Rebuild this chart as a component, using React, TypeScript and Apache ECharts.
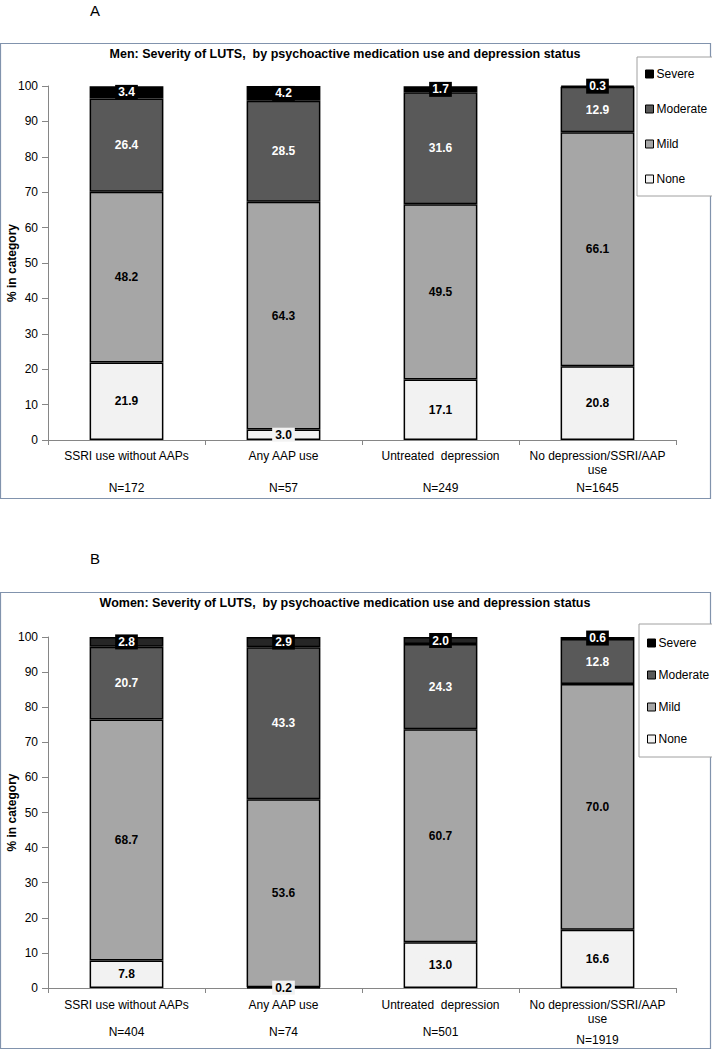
import React, { useEffect, useRef } from "react";
import * as echarts from "echarts";

const categories = ["SSRI use without AAPs", "Any AAP use", "Untreated  depression", "No depression/SSRI/AAP\nuse"];
const menN = ["N=172", "N=57", "N=249", "N=1645"];
const womenN = ["N=404", "N=74", "N=501", "N=1919"];

const menNone = [21.9, 3.0, 17.1, 20.8];
const menMild = [48.2, 64.3, 49.5, 66.1];
const menModerate = [26.4, 28.5, 31.6, 12.9];
const menSevere = [3.4, 4.2, 1.7, 0.3];

const womenNone = [7.8, 0.2, 13.0, 16.6];
const womenMild = [68.7, 53.6, 60.7, 70.0];
const womenModerate = [20.7, 43.3, 24.3, 12.8];
const womenSevere = [2.8, 2.9, 2.0, 0.6];

const yTicks = [0, 10, 20, 30, 40, 50, 60, 70, 80, 90, 100];
const legendNames = ["Severe", "Moderate", "Mild", "None"];

const FONT = "'Liberation Sans', Arial, sans-serif";

export default function App() {
  const ref = useRef<HTMLDivElement>(null);
  useEffect(() => {
    document.body.style.margin = "0";
    if (!ref.current) return;
    const chart = echarts.init(ref.current, undefined, { renderer: "svg" });

    const fmt = (p: any) => Number(p.value).toFixed(1);
    const mkSeries = (name: string, data: number[], idx: number, color: string, label: any, stack: string) => ({
      name,
      type: "bar",
      stack,
      xAxisIndex: idx * 2,
      yAxisIndex: idx,
      data,
      barWidth: "47%",
      itemStyle: { color, borderColor: "#000", borderWidth: 1.5 },
      label: { show: true, position: "inside", formatter: fmt, fontFamily: FONT, fontWeight: "bold", fontSize: 12, ...label },
      emphasis: { disabled: true },
    });

    const noneLabel = { color: "#000", backgroundColor: "#f2f2f2", padding: [1, 3] };
    const mildLabel = { color: "#000" };
    const modLabel = { color: "#fff" };
    const sevLabel = { color: "#fff", backgroundColor: "#000", padding: [2, 3, 1, 3] };

    const grids = [
      { left: 48, top: 86, width: 628, height: 354, outerBoundsMode: "none", containLabel: false },
      { left: 48, top: 637, width: 628, height: 351, outerBoundsMode: "none", containLabel: false },
    ];

    const xAxes: any[] = [];
    const nLabels = [menN, womenN];
    const nOffsets = [33, 29];
    const catMargins = [9, 10];
    [0, 1].forEach((g) => {
      xAxes.push({
        type: "category",
        gridIndex: g,
        data: categories,
        axisLine: { lineStyle: { color: "#868686", width: 1 } },
        axisTick: { show: true, length: 5, lineStyle: { color: "#868686" } },
        axisLabel: { color: "#000", fontSize: 12, fontFamily: FONT, margin: catMargins[g], lineHeight: 14, interval: 0 },
      });
      xAxes.push({
        type: "category",
        gridIndex: g,
        position: "bottom",
        offset: nOffsets[g],
        data: nLabels[g].map((t, i) =>
          g === 1 && i === nLabels[g].length - 1 ? { value: t, textStyle: { padding: [8, 0, 0, 0] } } : t
        ),
        axisLine: { show: false },
        axisTick: { show: false },
        axisLabel: { color: "#000", fontSize: 12, fontFamily: FONT, margin: 9, interval: 0 },
      });
    });

    const yAxes = [0, 1].map((g) => ({
      type: "value",
      gridIndex: g,
      min: yTicks[0],
      max: yTicks[yTicks.length - 1],
      interval: yTicks[1] - yTicks[0],
      name: "% in category",
      nameLocation: "middle",
      nameGap: 30,
      nameMoveOverlap: false,
      nameTextStyle: { color: "#000", fontWeight: "bold", fontSize: 12, fontFamily: FONT },
      axisLine: { show: true, lineStyle: { color: "#868686", width: 1 } },
      axisTick: { show: true, length: 6, lineStyle: { color: "#868686" } },
      axisLabel: { color: "#000", fontSize: 12, fontFamily: FONT, margin: 10 },
      splitLine: { show: false },
    }));

    const series = [
      mkSeries("None", menNone, 0, "#f2f2f2", noneLabel, "a"),
      mkSeries("Mild", menMild, 0, "#a6a6a6", mildLabel, "a"),
      mkSeries("Moderate", menModerate, 0, "#595959", modLabel, "a"),
      mkSeries("Severe", menSevere, 0, "#000000", sevLabel, "a"),
      mkSeries("None", womenNone, 1, "#f2f2f2", noneLabel, "b"),
      mkSeries("Mild", womenMild, 1, "#a6a6a6", mildLabel, "b"),
      mkSeries("Moderate", womenModerate, 1, "#595959", modLabel, "b"),
      mkSeries("Severe", womenSevere, 1, "#262626", { ...sevLabel }, "b"),
    ];

    const legendBase = {
      orient: "vertical",
      data: legendNames,
      icon: "rect",
      itemWidth: 8,
      itemHeight: 8,
      itemStyle: { borderColor: "#000", borderWidth: 1 },
      textStyle: { color: "#000", fontSize: 12, fontFamily: FONT, padding: [0, 0, 0, -2] },
      backgroundColor: "#fff",
      borderColor: "#a0a0a0",
      borderWidth: 1,
      borderRadius: 0,
      selectedMode: false,
    };

    const option: any = {
      animation: false,
      textStyle: { fontFamily: FONT },
      grid: grids,
      xAxis: xAxes,
      yAxis: yAxes,
      series,
      legend: [
        { ...legendBase, left: 637, top: 57, itemGap: 23, padding: [11, 8, 11, 8], width: 60 },
        { ...legendBase, left: 639, top: 624, itemGap: 20, padding: [13, 8, 12, 8], width: 60 },
      ],
      graphic: [
        { type: "rect", shape: { x: 0.5, y: 43.5, width: 710, height: 455 }, style: { fill: "none", stroke: "#8193ad", lineWidth: 1.2 }, silent: true, z: -1 },
        { type: "rect", shape: { x: 0.5, y: 592.5, width: 710, height: 456 }, style: { fill: "none", stroke: "#8193ad", lineWidth: 1.2 }, silent: true, z: -1 },
        { type: "text", x: 95, y: 10, style: { text: "A", fontSize: 15, fontFamily: FONT, fill: "#000", textAlign: "center", textVerticalAlign: "middle" } },
        { type: "text", x: 95, y: 558, style: { text: "B", fontSize: 15, fontFamily: FONT, fill: "#000", textAlign: "center", textVerticalAlign: "middle" } },
        { type: "text", x: 345, y: 54, style: { text: "Men: Severity of LUTS,  by psychoactive medication use and depression status", fontSize: 12.5, fontWeight: "bold", fontFamily: FONT, fill: "#000", textAlign: "center", textVerticalAlign: "middle" } },
        { type: "text", x: 345, y: 603, style: { text: "Women: Severity of LUTS,  by psychoactive medication use and depression status", fontSize: 12.5, fontWeight: "bold", fontFamily: FONT, fill: "#000", textAlign: "center", textVerticalAlign: "middle" } },
      ],
    };
    chart.setOption(option);
    return () => chart.dispose();
  }, []);
  return <div ref={ref} style={{ width: 712, height: 1050 }} />;
}
